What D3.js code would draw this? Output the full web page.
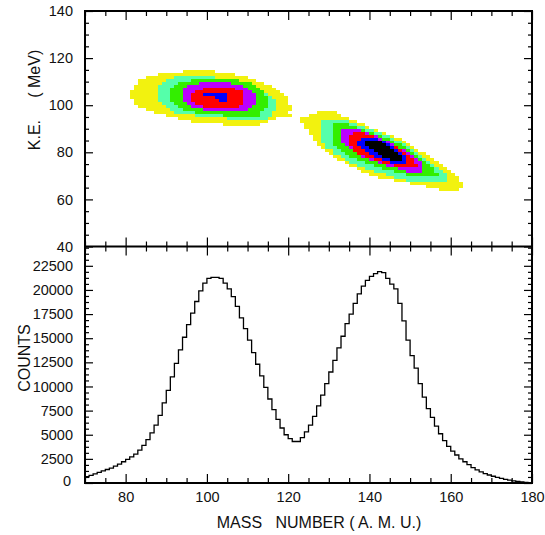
<!DOCTYPE html>
<html><head><meta charset="utf-8">
<script src="https://cdn.jsdelivr.net/npm/d3@7"></script>
<style>
body{margin:0;background:#fff}
svg{display:block}
text{font-family:"Liberation Sans",Arial,Helvetica,sans-serif}
</style>
</head><body>
<svg id="c" width="545" height="535"></svg>
<script>
// ---------------- data ----------------
const massStart = 70;      // first mass bin (AMU), bin width 1
const massEnd = 180;
const counts = [
  650, 800, 950, 1100, 1250, 1400, 1550, 1750, 1950, 2200,          // 70-79
  2450, 2700, 3000, 3400, 3900, 4500, 5200, 6000, 7000, 8300,       // 80-89
  9600, 11000, 12400, 13800, 15100, 16400, 17600, 18800, 19900, 20700, // 90-99
  21200, 21300, 21300, 21200, 20700, 20100, 19300, 18300, 17100, 16000, // 100-109
  14800, 13500, 12300, 11100, 9900, 8700, 7600, 6600, 5700, 5000,  // 110-119
  4600, 4300, 4300, 4700, 5300, 6000, 6900, 8000, 9100, 10300,     // 120-129
  11500, 12700, 14000, 15200, 16500, 17500, 18600, 19600, 20400, 21000, // 130-139
  21400, 21700, 21900, 21800, 21200, 20600, 20100, 18600, 16800, 14800, // 140-149
  13200, 11900, 10300, 8900, 7700, 6800, 5900, 5100, 4400, 3800,   // 150-159
  3300, 2900, 2500, 2200, 1900, 1600, 1350, 1150, 980, 830,        // 160-169
  700, 580, 470, 380, 300, 230, 170, 110, 60, 20                   // 170-179
];

// contour levels (outer -> inner)
const levelColors = ["#f2f20f", "#55ffaa", "#33ee00", "#bb00ff", "#ff0000", "#0000ff", "#000000"];
const eBin = 1.25; // MeV per heat-map row

// each row: [E_low, [mass from, to] for level 1, level 2, ...]
const lightFragment = [
  [113.75, [94,101]],
  [112.5,  [88,106]],
  [111.25, [85,109],[92,101]],
  [110,    [83,111],[90,105],[96,107]],
  [108.75, [83,113],[89,108],[93,110],[98,105]],
  [107.5,  [82,115],[88,110],[92,111],[95,108]],
  [106.25, [82,116],[88,112],[91,112],[94,109],[99,106]],
  [105,    [81,117],[88,113],[91,113],[94,110],[97,108]],
  [103.75, [81,118],[88,114],[91,113],[94,111],[96,108],[99,104]],
  [102.5,  [81,119],[88,115],[91,114],[94,111],[96,108],[102,104]],
  [101.25, [82,119],[88,116],[91,114],[94,111],[96,108],[103,104]],
  [100,    [82,119],[89,116],[92,114],[95,111],[97,108]],
  [98.75,  [83,120],[90,116],[93,114],[96,110],[99,107]],
  [97.5,   [85,120],[91,116],[94,113],[99,109]],
  [96.25,  [87,119],[92,115],[97,112]],
  [95,     [90,120],[97,115],[104,112]],
  [93.75,  [93,116],[105,114]],
  [92.5,   [96,114]],
  [91.25,  [104,112]]
];
const heavyFragment = [
  [96.25, [127,131]],
  [95,    [125,132]],
  [93.75, [123,134]],
  [92.5,  [123,136],[128,134]],
  [91.25, [124,138],[128,136],[131,134]],
  [90,    [124,139],[128,138],[131,136]],
  [88.75, [125,141],[128,140],[131,138],[133,137]],
  [87.5,  [125,143],[128,142],[131,140],[133,139],[136,138]],
  [86.25, [126,145],[128,144],[131,142],[133,141],[135,140]],
  [85,    [126,147],[128,145],[131,144],[133,142],[135,141],[138,141]],
  [83.75, [127,148],[128,147],[131,145],[133,144],[135,143],[137,143],[139,142]],
  [82.5,  [127,149],[129,148],[131,147],[134,145],[135,144],[137,144],[139,143]],
  [81.25, [128,150],[129,149],[132,148],[135,146],[136,146],[138,145],[140,144]],
  [80,    [129,151],[131,150],[133,149],[136,148],[136,147],[139,146],[141,145]],
  [78.75, [130,153],[131,151],[134,150],[137,149],[137,148],[140,147],[142,146]],
  [77.5,  [131,154],[133,152],[135,151],[138,150],[139,149],[141,148],[143,147]],
  [76.25, [132,155],[134,153],[137,152],[140,151],[141,150],[143,148],[145,147]],
  [75,    [134,156],[135,154],[139,153],[142,152],[143,150],[145,148]],
  [73.75, [135,157],[137,155],[141,154],[144,152],[146,151]],
  [72.5,  [137,158],[139,156],[143,155],[147,152]],
  [71.25, [138,159],[141,157],[146,155],[149,152]],
  [70,    [140,160],[144,158],[149,156]],
  [68.75, [142,161],[146,158]],
  [67.5,  [146,161],[149,158]],
  [66.25, [150,162]],
  [65,    [154,162]],
  [63.75, [157,161]]
];

const xMajor = [80, 100, 120, 140, 160, 180];
const keMajor = [40, 60, 80, 100, 120, 140];
const countMajor = [0, 2500, 5000, 7500, 10000, 12500, 15000, 17500, 20000, 22500];

// ---------------- layout ----------------
const L = 85, R = 532, T = 11, M = 246.5, B = 483;
const svg = d3.select("#c");
const x = d3.scaleLinear().domain([massStart, massEnd]).range([L, R]);
const yKE = d3.scaleLinear().domain([40, 140]).range([M, T]);
const yC = d3.scaleLinear().domain([0, 24500]).range([B, M]);

// heat map
const heat = svg.append("g").attr("shape-rendering", "crispEdges");
[lightFragment, heavyFragment].forEach(rows => {
  rows.forEach(row => {
    const e = row[0];
    row.slice(1).forEach((rg, lvl) => {
      heat.append("rect")
        .attr("x", x(rg[0]))
        .attr("width", x(rg[1] + 1) - x(rg[0]))
        .attr("y", yKE(e + eBin))
        .attr("height", yKE(e) - yKE(e + eBin))
        .attr("fill", levelColors[lvl]);
    });
  });
});

// histogram
const histPts = counts.map((c, i) => [massStart + i, c]);
histPts.push([massEnd, counts[counts.length - 1]]);
svg.append("path")
  .datum(histPts)
  .attr("fill", "none")
  .attr("stroke", "#000")
  .attr("stroke-width", 1.3)
  .attr("d", d3.line().x(d => x(d[0])).y(d => yC(d[1])).curve(d3.curveStepAfter));

// axes helpers
const minorX = d3.range(massStart, massEnd + 1, 5).filter(v => !xMajor.includes(v));
const minorKE = d3.range(40, 141, 5).filter(v => !keMajor.includes(v));
const minorC = d3.range(0, 24500, 625).filter(v => !countMajor.includes(v));

function addAxis(gen, tx, ty, labels) {
  const g = svg.append("g").attr("transform", `translate(${tx},${ty})`).call(gen);
  g.select(".domain").remove();
  g.selectAll("line").attr("stroke", "#000").attr("stroke-width", 1.2);
  g.selectAll("text").attr("font-size", 14.5).attr("fill", "#111")
    .attr("font-family", '"Liberation Sans",Arial,sans-serif');
  if (!labels) g.selectAll("text").remove();
  return g;
}
const MJ = 9, MN = 5;
// bottom axis
addAxis(d3.axisBottom(x).tickValues(xMajor).tickSize(-MJ).tickPadding(9).tickFormat(d3.format("d")), 0, B, true);
addAxis(d3.axisBottom(x).tickValues(minorX).tickSize(-MN), 0, B, false);
// top axis
addAxis(d3.axisTop(x).tickValues(xMajor).tickSize(-MJ), 0, T, false);
addAxis(d3.axisTop(x).tickValues(minorX).tickSize(-MN), 0, T, false);
// middle line ticks both sides
addAxis(d3.axisBottom(x).tickValues(xMajor).tickSize(-MJ), 0, M, false);
addAxis(d3.axisBottom(x).tickValues(minorX).tickSize(-MN), 0, M, false);
addAxis(d3.axisTop(x).tickValues(xMajor).tickSize(-MJ), 0, M, false);
addAxis(d3.axisTop(x).tickValues(minorX).tickSize(-MN), 0, M, false);
// left/right, top panel
addAxis(d3.axisLeft(yKE).tickValues(keMajor).tickSize(-8).tickPadding(12).tickFormat(d3.format("d")), L, 0, true);
addAxis(d3.axisLeft(yKE).tickValues(minorKE).tickSize(-4), L, 0, false);
addAxis(d3.axisRight(yKE).tickValues(keMajor).tickSize(-8), R, 0, false);
addAxis(d3.axisRight(yKE).tickValues(minorKE).tickSize(-4), R, 0, false);
// left/right, bottom panel
addAxis(d3.axisLeft(yC).tickValues(countMajor.slice(1)).tickSize(-8).tickPadding(12).tickFormat(d3.format("d")), L, 0, true);
addAxis(d3.axisLeft(yC).tickValues([0]).tickSize(-8).tickPadding(14).tickFormat(d3.format("d")), L, 0, true)
  .selectAll("text").attr("dy", "0.2em");
addAxis(d3.axisLeft(yC).tickValues(minorC).tickSize(-4), L, 0, false);
addAxis(d3.axisRight(yC).tickValues(countMajor).tickSize(-8), R, 0, false);
addAxis(d3.axisRight(yC).tickValues(minorC).tickSize(-4), R, 0, false);

// frame
svg.append("rect").attr("x", L).attr("y", T).attr("width", R - L).attr("height", B - T)
  .attr("fill", "none").attr("stroke", "#000").attr("stroke-width", 2);
svg.append("line").attr("x1", L).attr("x2", R).attr("y1", M).attr("y2", M)
  .attr("stroke", "#000").attr("stroke-width", 2);

// titles
svg.append("text").attr("transform", "translate(40,100) rotate(-90)")
  .attr("text-anchor", "middle").attr("font-size", 16).attr("fill", "#111")
  .style("white-space", "pre").text("K.E.     ( MeV)");
svg.append("text").attr("transform", "translate(30,358) rotate(-90)")
  .attr("text-anchor", "middle").attr("font-size", 16).attr("fill", "#111")
  .text("COUNTS");
svg.append("text").attr("x", 319).attr("y", 528)
  .attr("text-anchor", "middle").attr("font-size", 16).attr("fill", "#111")
  .style("white-space", "pre").text("MASS   NUMBER ( A. M. U.)");
</script>
</body></html>
